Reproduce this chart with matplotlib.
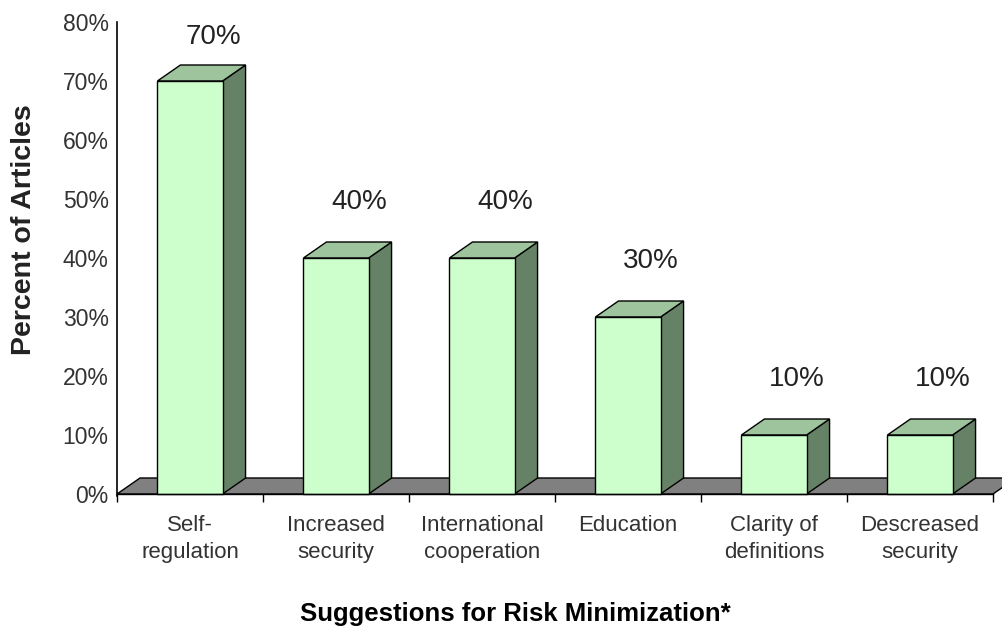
import numpy as np
import matplotlib.pyplot as plt
from matplotlib.patches import Polygon, Rectangle

plt.rcParams['font.family'] = ['Liberation Sans', 'DejaVu Sans']

# data
categories = ['Self-\nregulation', 'Increased\nsecurity', 'International\ncooperation',
              'Education', 'Clarity of\ndefinitions', 'Descreased\nsecurity']
values = [70, 40, 40, 30, 10, 10]
yticks = [0, 10, 20, 30, 40, 50, 60, 70, 80]

W, H = 1002, 631
fig = plt.figure(figsize=(W / 100, H / 100), dpi=100)
ax = fig.add_axes([117 / W, 1 - 494 / H, 876 / W, 472 / H])

n = len(categories)
dx = 23 / 146      # depth offset (category units)
dy = 16 / 5.9      # depth offset (percent units)
hw = 0.223         # half bar width

front_c = '#CCFFCC'
top_c = '#9DC49D'
side_c = '#668266'
floor_c = '#808080'
lw = 1.0

# floor
floor = Polygon([(0, 0), (n, 0), (n + dx, dy), (dx, dy)], closed=True,
                facecolor=floor_c, edgecolor='black', lw=lw, clip_on=False, zorder=1)
ax.add_patch(floor)

for i, v in enumerate(values):
    c = i + 0.5
    ax.add_patch(Polygon([(c + hw, 0), (c + hw + dx, dy), (c + hw + dx, v + dy), (c + hw, v)],
                         closed=True, facecolor=side_c, edgecolor='black', lw=lw,
                         clip_on=False, zorder=2))
    ax.add_patch(Polygon([(c - hw, v), (c + hw, v), (c + hw + dx, v + dy), (c - hw + dx, v + dy)],
                         closed=True, facecolor=top_c, edgecolor='black', lw=lw,
                         clip_on=False, zorder=2))
    ax.add_patch(Rectangle((c - hw, 0), 2 * hw, v, facecolor=front_c, edgecolor='black',
                           lw=lw, clip_on=False, zorder=3))
    ax.text(c + dx, min(v + 9.5, 77.5), f'{v}%', ha='center', va='center',
            fontsize=20, color='#222222', zorder=4)

ax.set_xlim(0, n)
ax.set_ylim(0, 80)
ax.set_xticks(np.arange(n + 1))
ax.set_xticklabels([])
ax.set_xticks(np.arange(n) + 0.5, minor=True)
ax.set_xticklabels(categories, minor=True, fontsize=16, color='#333333', linespacing=1.4)
ax.tick_params(axis='x', which='major', length=6, width=1, direction='out')
ax.tick_params(axis='x', which='minor', length=0, pad=15)
ax.set_yticks(yticks)
ax.set_yticklabels([f'{t}%' for t in yticks], fontsize=16.5, color='#333333')
ax.tick_params(axis='y', length=0, pad=6)

for s in ['top', 'right']:
    ax.spines[s].set_visible(False)
ax.spines['left'].set_bounds(-0.4, 80)
ax.spines['left'].set_linewidth(1.2)
ax.spines['bottom'].set_linewidth(1.0)
ax.spines['bottom'].set_zorder(5)

fig.text(24 / W, 1 - 230 / H, 'Percent of Articles', rotation=90, ha='center', va='center',
         fontsize=20.5, fontweight='bold', color='#222222')
fig.text(515 / W, 1 - 614 / H, 'Suggestions for Risk Minimization*', ha='center', va='center',
         fontsize=18.5, fontweight='bold', color='black')

fig.savefig('out.png', dpi=100)
